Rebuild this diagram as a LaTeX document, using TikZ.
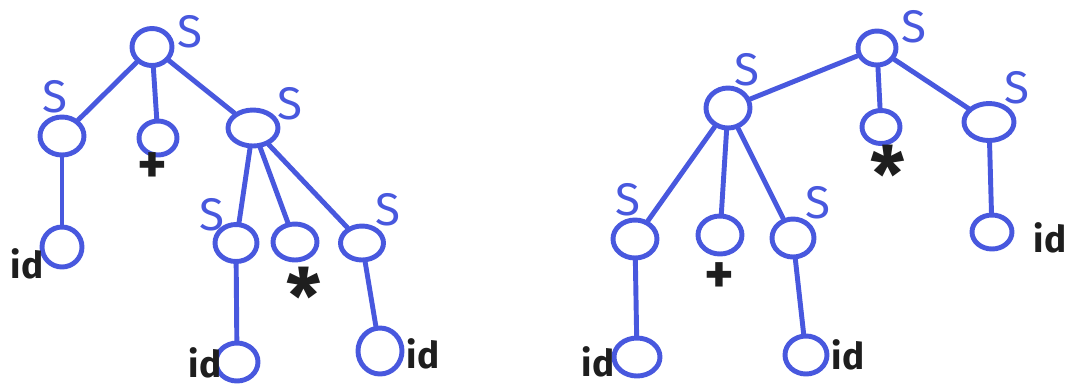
\documentclass[tikz,border=0pt]{standalone}
\usepackage{fontspec}
\setmainfont{Fira Sans}
\usetikzlibrary{shapes.geometric}
\definecolor{pen}{RGB}{72,88,222}
\definecolor{ink}{RGB}{30,30,30}
\tikzset{
  nd/.style={ellipse, draw=pen, line width=1.4pt, inner sep=0pt},
  edge/.style={draw=pen, line width=1.4pt, line cap=round},
  slab/.style={text=pen, font=\fontsize{13}{13}\selectfont, inner sep=0pt},
  tlab/.style={text=ink, font=\bfseries\fontsize{10.5}{10.5}\selectfont, inner sep=0pt},
  plab/.style={text=ink, font=\bfseries\fontsize{16}{16}\selectfont, inner sep=0pt},
  alab/.style={text=ink, font=\bfseries\fontsize{22}{22}\selectfont, inner sep=0pt}
}
\begin{document}
\begin{tikzpicture}[x=0.01cm, y=-0.01cm]
\useasboundingbox (0,0) rectangle (1087,387);
% ---------- left tree ----------
\node[nd, minimum width=40*0.01cm, minimum height=37*0.01cm] (Lr) at (152,47) {};
\node[nd, minimum width=44*0.01cm, minimum height=38*0.01cm] (La) at (62,136) {};
\node[nd, minimum width=38*0.01cm, minimum height=34*0.01cm] (Lp) at (158,138) {};
\node[nd, minimum width=50*0.01cm, minimum height=36*0.01cm] (Lb) at (253,128) {};
\node[nd, minimum width=40*0.01cm, minimum height=40*0.01cm] (Lai) at (62,247) {};
\node[nd, minimum width=42*0.01cm, minimum height=37*0.01cm] (Lc) at (236,243) {};
\node[nd, minimum width=44*0.01cm, minimum height=36*0.01cm] (Ls) at (295,242) {};
\node[nd, minimum width=43*0.01cm, minimum height=34*0.01cm] (Ld) at (362,243) {};
\node[nd, minimum width=42*0.01cm, minimum height=38*0.01cm] (Lci) at (237,362) {};
\node[nd, minimum width=44*0.01cm, minimum height=46*0.01cm] (Ldi) at (380,351) {};
\draw[edge] (Lr) -- (La);
\draw[edge] (Lr) -- (Lp);
\draw[edge] (Lr) -- (Lb);
\draw[edge] (La) -- (Lai);
\draw[edge] (Lb) -- (Lc);
\draw[edge] (Lb) -- (Ls);
\draw[edge] (Lb) -- (Ld);
\draw[edge] (Lc) -- (Lci);
\draw[edge] (Ld) -- (Ldi);
\node[slab] (Lrs) at (190,32) {S};
\node[slab] (Las) at (55,97) {S};
\node[slab] (Lbs) at (290,104) {S};
\node[slab] (Lcs) at (212,215) {S};
\node[slab] (Lds) at (388,210) {S};
\node[plab] (Lpt) at (152,168) {+};
\node[alab] (Lst) at (304,296) {*};
\node[tlab] (Lait) at (27,264) {id};
\node[tlab] (Lcit) at (205,363) {id};
\node[tlab] (Ldit) at (423,354) {id};
% ---------- right tree ----------
\node[nd, minimum width=38*0.01cm, minimum height=34*0.01cm] (Rr) at (877,48) {};
\node[nd, minimum width=44*0.01cm, minimum height=40*0.01cm] (Ra) at (728,108) {};
\node[nd, minimum width=38*0.01cm, minimum height=33*0.01cm] (Rs) at (881,127) {};
\node[nd, minimum width=50*0.01cm, minimum height=37*0.01cm] (Rb) at (989,122) {};
\node[nd, minimum width=44*0.01cm, minimum height=38*0.01cm] (Rc) at (635,239) {};
\node[nd, minimum width=44*0.01cm, minimum height=38*0.01cm] (Rp) at (720,235) {};
\node[nd, minimum width=42*0.01cm, minimum height=38*0.01cm] (Rd) at (793,238) {};
\node[nd, minimum width=40*0.01cm, minimum height=34*0.01cm] (Rbi) at (992,232) {};
\node[nd, minimum width=46*0.01cm, minimum height=38*0.01cm] (Rci) at (637,357) {};
\node[nd, minimum width=42*0.01cm, minimum height=38*0.01cm] (Rdi) at (806,355) {};
\draw[edge] (Rr) -- (Ra);
\draw[edge] (Rr) -- (Rs);
\draw[edge] (Rr) -- (Rb);
\draw[edge] (Ra) -- (Rc);
\draw[edge] (Ra) -- (Rp);
\draw[edge] (Ra) -- (Rd);
\draw[edge] (Rb) -- (Rbi);
\draw[edge] (Rc) -- (Rci);
\draw[edge] (Rd) -- (Rdi);
\node[slab] (Rrs) at (914,27) {S};
\node[slab] (Ras) at (747,70) {S};
\node[slab] (Rbs) at (1017,88) {S};
\node[slab] (Rcs) at (628,200) {S};
\node[slab] (Rds) at (818,203) {S};
\node[alab] (Rst) at (888,174) {*};
\node[plab] (Rpt) at (719,278) {+};
\node[tlab] (Rbit) at (1050,238) {id};
\node[tlab] (Rcit) at (598,362) {id};
\node[tlab] (Rdit) at (848,355) {id};
\end{tikzpicture}
\end{document}
